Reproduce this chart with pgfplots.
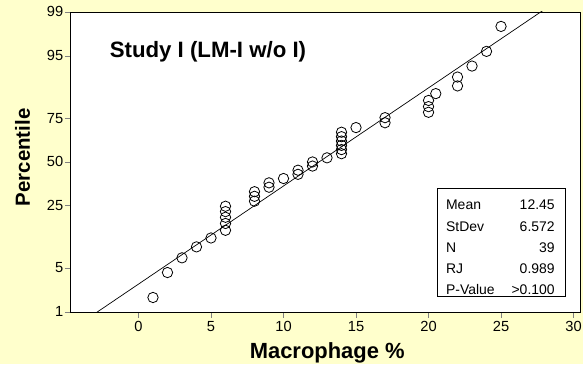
\documentclass[border=0pt]{standalone}
\usepackage{fontspec}
\setmainfont{Liberation Sans}
\usepackage{pgfplots}
\pgfplotsset{compat=1.18}
\definecolor{bgyellow}{HTML}{FFFFCC}
\begin{document}
\begin{tikzpicture}
\fill[bgyellow] (0,0) rectangle (585bp,365bp);
\begin{axis}[
  at={(71bp,52bp)}, anchor=south west,
  scale only axis, width=511bp, height=301bp,
  xmin=-4.67, xmax=30.45,
  ymin=-2.3263, ymax=2.3263,
  axis background/.style={fill=white},
  axis line style={line width=0.8bp},
  xtick={0,5,10,15,20,25,30},
  ytick={-2.3263,-1.6449,-0.6745,0,0.6745,1.6449,2.3263},
  yticklabels={1,5,25,50,75,95,99},
  tick align=outside, major tick length=6bp,
  xtick pos=bottom, ytick pos=left,
  /pgf/number format/assume math mode=true,
  tick label style={font=\fontsize{14.7bp}{16bp}\selectfont},
  yticklabel style={xshift=2bp},
  xticklabel style={yshift=0bp},
  xlabel={Macrophage \%},
  ylabel={Percentile},
  xlabel style={at={(axis description cs:0.5035,-0.156)}, anchor=base, font=\bfseries\fontsize{22bp}{24bp}\selectfont},
  ylabel style={at={(axis description cs:-0.0802,0.515)}, anchor=base, font=\bfseries\fontsize{20.5bp}{22bp}\selectfont},
]
\addplot[black, line width=0.7bp] coordinates {(-4.67,-2.605) (30.45,2.739)};
\addplot[only marks, mark=o, mark size=5.2bp, mark options={line width=0.8bp, black}] coordinates {
(1,-2.102) (2,-1.715) (3,-1.487) (4,-1.317) (5,-1.179)
(6,-1.060) (6,-0.954) (6,-0.858) (6,-0.770) (6,-0.687)
(8,-0.608) (8,-0.533) (8,-0.461)
(9,-0.392) (9,-0.324)
(10,-0.257)
(11,-0.192) (11,-0.128)
(12,-0.064) (12,0)
(13,0.064)
(14,0.128) (14,0.192) (14,0.257) (14,0.324) (14,0.392) (14,0.461)
(15,0.533)
(17,0.608) (17,0.687)
(20,0.770) (20,0.858) (20,0.954)
(20.5,1.060)
(22,1.179) (22,1.317)
(23,1.487)
(24,1.715)
(25,2.102)
};
\node[anchor=base west, font=\bfseries\fontsize{22.3bp}{24bp}\selectfont, inner sep=0] at (rel axis cs:0.0763,0.848) {Study I (LM-I w/o I)};
\draw[line width=0.8bp] (rel axis cs:0.719,0.052) rectangle (rel axis cs:0.971,0.411);
\node[anchor=base west, inner sep=0, font=\fontsize{14bp}{16bp}\selectfont] at (rel axis cs:0.7366,0.3400) {Mean};
\node[anchor=base west, inner sep=0, font=\fontsize{14bp}{16bp}\selectfont] at (rel axis cs:0.7366,0.2692) {StDev};
\node[anchor=base west, inner sep=0, font=\fontsize{14bp}{16bp}\selectfont] at (rel axis cs:0.7366,0.1984) {N};
\node[anchor=base west, inner sep=0, font=\fontsize{14bp}{16bp}\selectfont] at (rel axis cs:0.7366,0.1276) {RJ};
\node[anchor=base west, inner sep=0, font=\fontsize{14bp}{16bp}\selectfont] at (rel axis cs:0.7366,0.0568) {P-Value};
\node[anchor=base east, inner sep=0, font=\fontsize{14bp}{16bp}\selectfont] at (rel axis cs:0.9505,0.3400) {12.45};
\node[anchor=base east, inner sep=0, font=\fontsize{14bp}{16bp}\selectfont] at (rel axis cs:0.9505,0.2692) {6.572};
\node[anchor=base east, inner sep=0, font=\fontsize{14bp}{16bp}\selectfont] at (rel axis cs:0.9505,0.1984) {39};
\node[anchor=base east, inner sep=0, font=\fontsize{14bp}{16bp}\selectfont] at (rel axis cs:0.9505,0.1276) {0.989};
\node[anchor=base east, inner sep=0, font=\fontsize{14bp}{16bp}\selectfont] at (rel axis cs:0.9505,0.0568) {>0.100};
\end{axis}
\end{tikzpicture}
\end{document}
